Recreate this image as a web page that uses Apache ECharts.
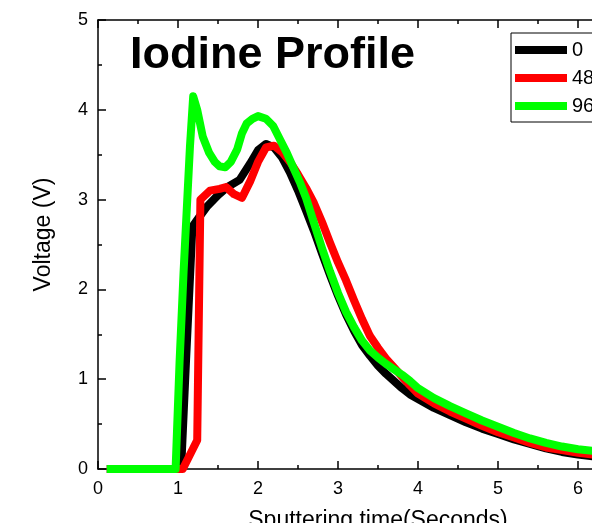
<!DOCTYPE html>
<html><head><meta charset="utf-8">
<script src="https://cdn.jsdelivr.net/npm/echarts@6/dist/echarts.min.js"></script>
<style>html,body{margin:0;padding:0;background:#fff}#c{width:592px;height:523px}</style>
</head><body><div id="c"></div>
<script>
var seriesNames = ['0', '48', '96'];
var s0 = [[0.11,0],[1.0,0],[1.04,0.02],[1.1,1.2],[1.18,2.7],[1.26,2.8],[1.36,2.92],[1.5,3.05],[1.62,3.14],[1.77,3.22],[1.9,3.4],[2.0,3.55],[2.1,3.62],[2.2,3.58],[2.3,3.47],[2.4,3.3],[2.5,3.1],[2.6,2.88],[2.7,2.65],[2.8,2.4],[2.9,2.16],[3.0,1.93],[3.1,1.72],[3.2,1.54],[3.3,1.38],[3.4,1.26],[3.5,1.15],[3.6,1.06],[3.7,0.98],[3.8,0.9],[3.9,0.83],[4.0,0.78],[4.2,0.68],[4.4,0.6],[4.6,0.52],[4.8,0.45],[5.0,0.39],[5.2,0.33],[5.4,0.28],[5.6,0.23],[5.8,0.19],[6.0,0.16],[6.2,0.14],[6.5,0.11],[7.0,0.08]];
var s48 = [[0.11,0],[1.06,0],[1.24,0.32],[1.28,3.0],[1.4,3.1],[1.52,3.12],[1.6,3.14],[1.7,3.06],[1.8,3.02],[1.9,3.2],[2.0,3.42],[2.1,3.58],[2.2,3.6],[2.3,3.53],[2.4,3.42],[2.5,3.28],[2.6,3.13],[2.7,2.96],[2.8,2.75],[2.9,2.52],[3.0,2.3],[3.1,2.1],[3.2,1.88],[3.3,1.67],[3.4,1.48],[3.5,1.35],[3.6,1.23],[3.7,1.13],[3.8,1.03],[3.9,0.93],[4.0,0.84],[4.2,0.73],[4.4,0.64],[4.6,0.56],[4.8,0.48],[5.0,0.41],[5.2,0.35],[5.4,0.29],[5.6,0.24],[5.8,0.21],[6.0,0.18],[6.2,0.16],[6.5,0.13],[7.0,0.1]];
var s96 = [[0.11,0],[0.97,0],[1.02,1.2],[1.07,2.2],[1.11,2.9],[1.15,3.6],[1.19,4.15],[1.24,4.0],[1.31,3.7],[1.39,3.52],[1.46,3.42],[1.52,3.37],[1.59,3.36],[1.66,3.42],[1.74,3.56],[1.8,3.74],[1.86,3.85],[1.93,3.9],[2.0,3.93],[2.1,3.9],[2.19,3.82],[2.28,3.66],[2.36,3.52],[2.45,3.34],[2.53,3.18],[2.6,3.02],[2.7,2.74],[2.8,2.46],[2.9,2.2],[3.0,1.96],[3.1,1.75],[3.2,1.58],[3.3,1.43],[3.4,1.32],[3.5,1.24],[3.6,1.17],[3.7,1.11],[3.8,1.05],[3.9,0.98],[4.0,0.9],[4.2,0.79],[4.4,0.7],[4.6,0.62],[4.8,0.54],[5.0,0.47],[5.2,0.4],[5.4,0.34],[5.6,0.29],[5.8,0.25],[6.0,0.22],[6.2,0.2],[6.5,0.17],[7.0,0.13]];
var colors = ['#000000', '#ff0000', '#00ff00'];
var xTicks = [0,1,2,3,4,5,6,7];
var yTicks = [0,1,2,3,4,5];

var chart = echarts.init(document.getElementById('c'), null, {renderer:'canvas'});
var font = 'Liberation Sans, Arial, sans-serif';
var axisLine = {show:true, onZero:false, lineStyle:{color:'#000', width:1.5}};
function mkX(pos, labels) {
  return {
    type:'value', position:pos, min:xTicks[0], max:xTicks[xTicks.length-1], interval:1,
    axisLine:axisLine,
    axisTick:{show:true, inside:true, length:8, lineStyle:{color:'#000', width:1.5}},
    minorTick:{show:true, splitNumber:2, length:4, lineStyle:{color:'#000', width:1.5}},
    axisLabel:{show:labels, color:'#000', fontFamily:font, fontSize:18, margin:11},
    splitLine:{show:false},
    name: labels ? 'Sputtering time(Seconds)' : '',
    nameLocation:'middle', nameGap:40,
    nameTextStyle:{color:'#000', fontFamily:font, fontSize:23}
  };
}
chart.setOption({
  animation:false,
  backgroundColor:'#fff',
  title:{text:'Iodine Profile', left:125, top:28,
    textStyle:{fontFamily:font, fontWeight:'bold', fontSize:45, color:'#000'}},
  legend:{
    orient:'vertical', left:511, top:33,
    data:seriesNames.map(function(n){return {name:n, icon:'rect'};}),
    itemWidth:52, itemHeight:8, itemGap:8,
    padding:[7,40,6,4],
    borderColor:'#000', borderWidth:1,
    textStyle:{fontFamily:font, fontSize:20, color:'#000', lineHeight:20}
  },
  grid:{left:98, top:20, right:-66, bottom:54, containLabel:false, outerBoundsMode:'none'},
  xAxis:[mkX('bottom', true), mkX('top', false)],
  yAxis:[{
    type:'value', min:yTicks[0], max:yTicks[yTicks.length-1], interval:1,
    axisLine:axisLine,
    axisTick:{show:true, inside:true, length:8, lineStyle:{color:'#000', width:1.5}},
    minorTick:{show:true, splitNumber:2, length:4, lineStyle:{color:'#000', width:1.5}},
    axisLabel:{color:'#000', fontFamily:font, fontSize:18, margin:10},
    splitLine:{show:false},
    name:'Voltage (V)', nameLocation:'middle', nameGap:43, nameRotate:90,
    nameTextStyle:{color:'#000', fontFamily:font, fontSize:23, padding:[0,0,0,20]}
  }],
  series:[s0, s48, s96].map(function(d, i){
    return {type:'line', name:seriesNames[i], data:d, showSymbol:false, symbol:'none',
      smooth:false, lineStyle:{color:colors[i], width:8, join:'round'}, itemStyle:{color:colors[i]}, z:2+i};
  })
});
</script></body></html>
